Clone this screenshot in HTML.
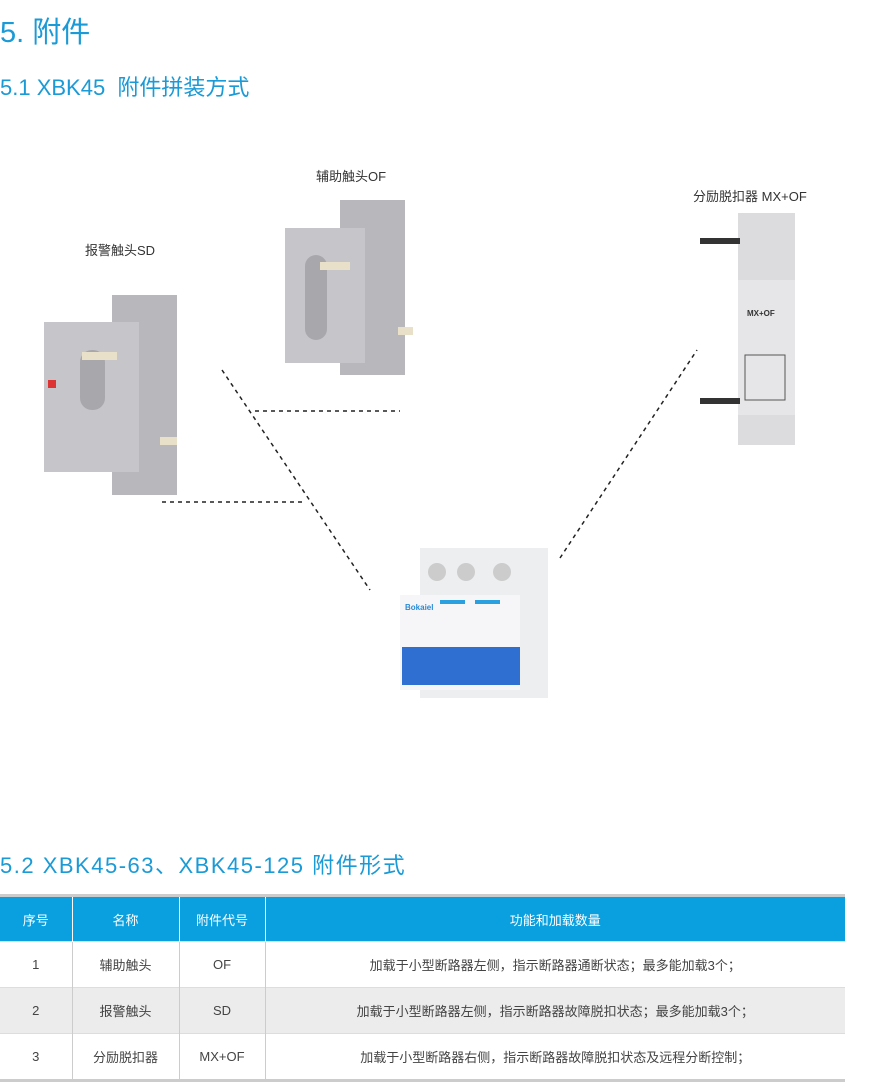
<!DOCTYPE html>
<html><head><meta charset="utf-8"><style>
body{margin:0;width:882px;height:1080px;background:#fff;position:relative;overflow:hidden;font-family:"Liberation Sans","Noto Sans CJK SC",sans-serif}
.a{position:absolute}
h1{position:absolute;margin:0;left:0;top:9px;font-size:29px;font-weight:normal;color:#1a9ad6}
.h2{position:absolute;left:0;font-size:22px;color:#1a9ad6}
.lbl{position:absolute;font-size:13px;color:#333}
table{position:absolute;left:0;top:894px;width:845px;table-layout:fixed;border-collapse:collapse;font-size:13px;color:#444;border-top:3px solid #ccc;border-bottom:3px solid #ccc}
th{background:#0aa0df;color:#fff;font-weight:normal;height:44px;padding:0;border-right:1px solid #fff}
td{text-align:center;height:45px;padding:0;border-right:1px solid #ccc;border-top:1px solid #ddd}
tr.g td{background:#ececec}
</style></head><body>
<h1>5. 附件</h1>
<div class="h2" style="top:70px">5.1 XBK45&nbsp; 附件拼装方式</div>
<div class="lbl" style="left:316px;top:166px">辅助触头OF</div>
<div class="lbl" style="left:85px;top:240px">报警触头SD</div>
<div class="lbl" style="left:693px;top:186px">分励脱扣器 MX+OF</div>
<svg class="a" style="left:0;top:0" width="882" height="800">
<g stroke="#222" stroke-width="1.5" stroke-dasharray="4,4" fill="none">
<line x1="222" y1="370" x2="370" y2="590"/>
<line x1="255" y1="411" x2="400" y2="411"/>
<line x1="162" y1="502" x2="305" y2="502"/>
<line x1="560" y1="558" x2="697" y2="350"/>
</g>
<rect x="112" y="295" width="65" height="200" fill="#b8b8bc"/>
<rect x="44" y="322" width="95" height="150" fill="#c6c6ca"/>
<rect x="80" y="350" width="25" height="60" rx="12" fill="#a8a8ac"/>
<rect x="48" y="380" width="8" height="8" fill="#d33"/>
<rect x="82" y="352" width="35" height="8" fill="#e8e0c8"/>
<rect x="160" y="437" width="17" height="8" fill="#e8e0c8"/>
<rect x="340" y="200" width="65" height="175" fill="#b8b8bc"/>
<rect x="285" y="228" width="80" height="135" fill="#c6c6ca"/>
<rect x="305" y="255" width="22" height="85" rx="11" fill="#a8a8ac"/>
<rect x="320" y="262" width="30" height="8" fill="#e8e0c8"/>
<rect x="398" y="327" width="15" height="8" fill="#e8e0c8"/>
<rect x="738" y="213" width="57" height="232" fill="#dcdcde"/>
<rect x="738" y="280" width="57" height="135" fill="#e6e6e8"/>
<rect x="700" y="238" width="40" height="6" fill="#333"/>
<rect x="700" y="398" width="40" height="6" fill="#333"/>
<text x="747" y="316" font-size="8" font-weight="bold" fill="#333">MX+OF</text>
<rect x="745" y="355" width="40" height="45" fill="none" stroke="#555"/>
<rect x="420" y="548" width="128" height="150" fill="#eceef0"/>
<rect x="400" y="595" width="120" height="95" fill="#f6f6f8"/>
<circle cx="437" cy="572" r="9" fill="#ccc"/><circle cx="466" cy="572" r="9" fill="#ccc"/><circle cx="502" cy="572" r="9" fill="#ccc"/>
<rect x="402" y="647" width="118" height="38" fill="#2f6fd1"/>
<rect x="440" y="600" width="25" height="4" fill="#2aa0e0"/><rect x="475" y="600" width="25" height="4" fill="#2aa0e0"/>
<text x="405" y="610" font-size="8" font-weight="bold" fill="#2a8ad6">Bokaiel</text>
</svg>
<div class="h2" style="top:848px;letter-spacing:1.5px">5.2 XBK45-63、XBK45-125 附件形式</div>
<table>
<colgroup><col style="width:72px"><col style="width:107px"><col style="width:86px"><col></colgroup>
<tr><th>序号</th><th>名称</th><th>附件代号</th><th style="border-right:none">功能和加载数量</th></tr>
<tr><td>1</td><td>辅助触头</td><td>OF</td><td style="border-right:none">加载于小型断路器左侧，指示断路器通断状态；最多能加载3个；</td></tr>
<tr class="g"><td>2</td><td>报警触头</td><td>SD</td><td style="border-right:none">加载于小型断路器左侧，指示断路器故障脱扣状态；最多能加载3个；</td></tr>
<tr><td>3</td><td>分励脱扣器</td><td>MX+OF</td><td style="border-right:none">加载于小型断路器右侧，指示断路器故障脱扣状态及远程分断控制；</td></tr>
</table>
</body></html>
